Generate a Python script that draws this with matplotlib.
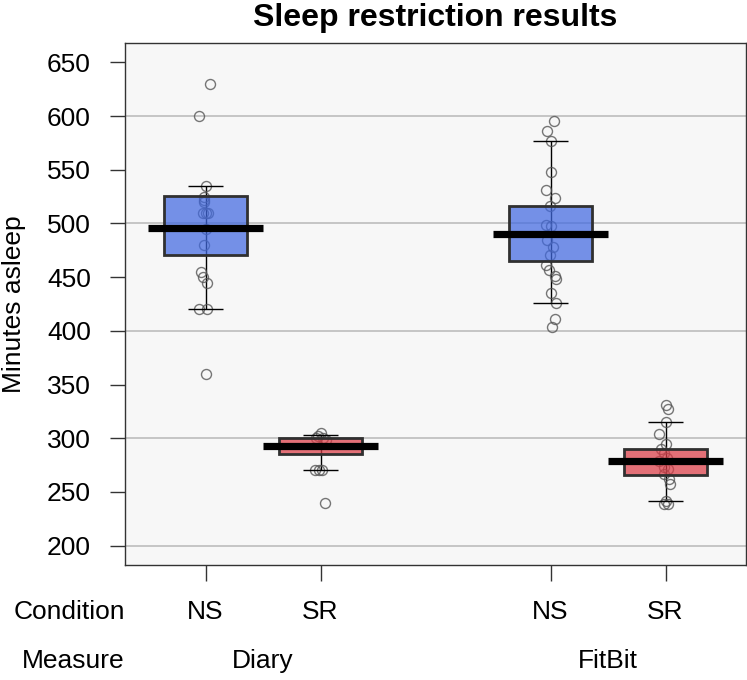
import matplotlib
matplotlib.use("Agg")
import matplotlib.pyplot as plt
import matplotlib.transforms as mtransforms

plt.rcParams['font.family'] = ['Liberation Sans', 'DejaVu Sans']

# ---- data ----
positions = [1, 2, 4, 5]
conditions = ["NS", "SR", "NS", "SR"]
measures = ["Diary", "FitBit"]
measure_pos = [1.5, 4.5]

box_low = [471, 285, 465, 266]
box_high = [526, 300, 516, 290]
means = [496, 293, 490, 279]
whisk_low = [420, 270, 426, 242]
whisk_high = [535, 303, 577, 315]

diary_ns = [630, 600, 535, 525, 522, 520, 510, 510, 510, 495, 480, 455, 450, 445, 420, 420, 360]
diary_ns_dx = [0.035, -0.06, 0, -0.017, -0.009, -0.017, -0.026, 0, 0.026, 0, -0.009, -0.035, -0.026, 0.017, -0.06, 0.017, 0]
diary_sr = [305, 302, 300, 300, 298, 270, 270, 270, 240]
diary_sr_dx = [0, -0.026, -0.043, 0.026, 0.052, -0.052, -0.017, 0.009, 0.043]
fitbit_ns = [595, 586, 577, 548, 531, 524, 516, 499, 498, 485, 478, 471, 461, 457, 451, 448, 435, 426, 411, 404]
fitbit_ns_dx = [0.029, -0.029, 0, 0, -0.043, 0.043, -0.006, -0.035, 0.006, -0.029, 0.023, -0.006, -0.043, -0.015, 0.035, 0.052, 0, 0.052, 0.035, 0.015]
fitbit_sr = [331, 327.5, 315, 304, 295, 290, 286, 282, 279, 273, 271, 267, 262, 257, 242, 239, 239]
fitbit_sr_dx = [0, 0.02, 0, -0.058, 0, -0.037, -0.015, 0.015, -0.058, -0.015, 0.02, -0.015, 0.029, 0.037, 0, 0.02, -0.015]

points = [diary_ns, diary_sr, fitbit_ns, fitbit_sr]
points_dx = [diary_ns_dx, diary_sr_dx, fitbit_ns_dx, fitbit_sr_dx]
box_colors = ["#4169E1", "#DC3C46", "#4169E1", "#DC3C46"]

yticks = list(range(200, 651, 50))
grid_vals = [200, 300, 400, 500, 600]

# ---- figure ----
W, H = 747, 680
fig = plt.figure(figsize=(W / 100, H / 100), dpi=100)
ax = fig.add_axes([125 / W, 115 / H, 621 / W, 522 / H])
ax.set_facecolor("#F7F7F7")
ax.set_xlim(0.3, 5.7)
ax.set_ylim(182, 668)

for g in grid_vals:
    ax.axhline(g, color="#BDBDBD", lw=1.2, zorder=1)

# whiskers
ax.vlines(positions, whisk_low, whisk_high, color="black", lw=1, zorder=2)
ax.hlines(whisk_low, [p - 0.15 for p in positions], [p + 0.15 for p in positions], color="black", lw=1, zorder=6)
ax.hlines(whisk_high, [p - 0.15 for p in positions], [p + 0.15 for p in positions], color="black", lw=1, zorder=6)

# points
for p, vals, dxs in zip(positions, points, points_dx):
    ax.plot([p + d for d in dxs], vals, linestyle="none", marker="o", markersize=7.2,
            markerfacecolor="none", markeredgecolor="#555555", markeredgewidth=1.0,
            alpha=0.8, zorder=3)

# boxes
ax.bar(positions, [h - l for h, l in zip(box_high, box_low)], bottom=box_low, width=0.715,
       color=box_colors, alpha=0.72, edgecolor="none", zorder=4)
ax.bar(positions, [h - l for h, l in zip(box_high, box_low)], bottom=box_low, width=0.715,
       facecolor="none", edgecolor="#303030", lw=2.0, zorder=5)

# means
ax.hlines(means, [p - 0.5 for p in positions], [p + 0.5 for p in positions], color="black", lw=5.2, zorder=7)

# axes styling
for s in ax.spines.values():
    s.set_color("#333333")
    s.set_linewidth(1.0)
ax.set_yticks(yticks)
ax.set_yticklabels([str(v) for v in yticks], fontsize=19)
ax.set_xticks(positions)
ax.set_xticklabels([])
ax.tick_params(axis="y", length=11, width=1, pad=13.5, color="#333333")
ax.tick_params(axis="x", length=11.5, width=1, color="#333333")

fig.text(14 / W, 1 - 304 / H, "Minutes asleep", rotation=90, ha="center", va="center", fontsize=19)
fig.text(435 / W, 1 - 18 / H, "Sleep restriction results", ha="center", va="center",
         fontsize=23, fontweight="bold")

trans = mtransforms.blended_transform_factory(ax.transData, fig.transFigure)
for p, c in zip(positions, conditions):
    ax.text(p, 1 - 612 / H, c, transform=trans, ha="center", va="center", fontsize=19)
for p, m in zip(measure_pos, measures):
    ax.text(p, 1 - 661 / H, m, transform=trans, ha="center", va="center", fontsize=19)
fig.text(125 / W, 1 - 612 / H, "Condition", ha="right", va="center", fontsize=19)
fig.text(125 / W, 1 - 661 / H, "Measure", ha="right", va="center", fontsize=19)

fig.savefig("out.png", dpi=100)
